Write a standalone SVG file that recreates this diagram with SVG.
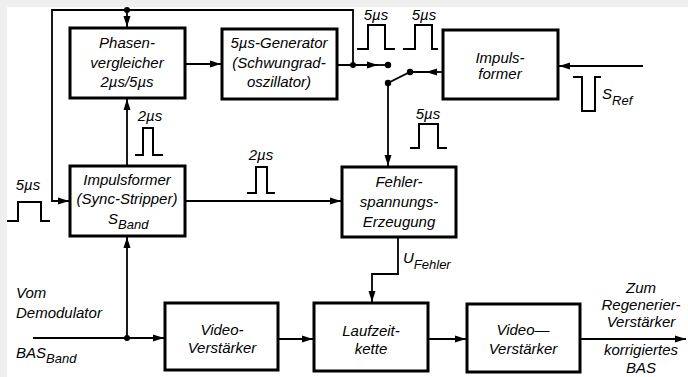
<svg xmlns="http://www.w3.org/2000/svg" width="688" height="377" viewBox="0 0 688 377">
<defs>
<marker id="arr" markerUnits="userSpaceOnUse" markerWidth="12" markerHeight="8" refX="11" refY="4" orient="auto">
<path d="M0,0.5 L11,4 L0,7.5 Z" fill="#000"/>
</marker>
<style>
.box{fill:#fff;stroke:#000;stroke-width:3}
.ln{fill:none;stroke:#000;stroke-width:1.8}
.pl{fill:none;stroke:#000;stroke-width:2}
.dot{fill:#000}
text{font-family:"Liberation Sans","DejaVu Sans",sans-serif;font-style:italic;font-size:15px;fill:#000}
.c{text-anchor:middle}
.sub{font-size:13px}
</style>
</defs>
<rect x="0" y="0" width="688" height="377" fill="#fff"/>
<rect x="0" y="0" width="688" height="7" fill="#efefef"/>
<rect x="0" y="0" width="7" height="377" fill="#efefef"/>

<g id="connectors">
<path class="ln" d="M353,65 V10 H52 V201 H69" marker-end="url(#arr)"/>
<path class="ln" d="M127,10 V27" marker-end="url(#arr)"/>
<path class="ln" d="M185,64 H221" marker-end="url(#arr)"/>
<path class="ln" d="M337,65 H378" marker-end="url(#arr)"/>
<path class="ln" d="M376,65 H388"/>
<path class="ln" d="M643,66 H559" marker-end="url(#arr)"/>
<path class="ln" d="M443,72 H426" marker-end="url(#arr)"/>
<path class="ln" d="M428,72 H410 L388,83"/>
<path class="ln" d="M388,83 V166" marker-end="url(#arr)"/>
<path class="ln" d="M127,166 V99" marker-end="url(#arr)"/>
<path class="ln" d="M185,201 H341" marker-end="url(#arr)"/>
<path class="ln" d="M33,338 H164" marker-end="url(#arr)"/>
<path class="ln" d="M127,338 V237" marker-end="url(#arr)"/>
<path class="ln" d="M278,339 H313" marker-end="url(#arr)"/>
<path class="ln" d="M428,339 H466" marker-end="url(#arr)"/>
<path class="ln" d="M580,339 H686" marker-end="url(#arr)"/>
<path class="ln" d="M398,237 V274 H372 V302" marker-end="url(#arr)"/>
<circle class="dot" cx="127" cy="10" r="3"/>
<circle class="dot" cx="353" cy="65" r="3"/>
<circle class="dot" cx="388" cy="65" r="3.2"/>
<circle class="dot" cx="410" cy="72" r="3.2"/>
<circle class="dot" cx="388" cy="83" r="3.2"/>
<circle class="dot" cx="127" cy="338" r="3"/>
</g>

<g id="pulses">
<polyline class="pl" points="357,49 368,49 368,25 385,25 385,49 395,49"/>
<text x="376" y="20" class="c">5µs</text>
<polyline class="pl" points="403,49 415,49 415,25 432,25 432,49 438,49"/>
<text x="424" y="20" class="c">5µs</text>
<polyline class="pl" points="410,148 419,148 419,124 438,124 438,148 447,148"/>
<text x="428" y="119" class="c">5µs</text>
<polyline class="pl" points="135,155 143,155 143,128 153,128 153,155 163,155"/>
<text x="150" y="121" class="c">2µs</text>
<polyline class="pl" points="247,193 256,193 256,167 267,167 267,193 275,193"/>
<text x="261" y="160" class="c">2µs</text>
<polyline class="pl" points="7,221 18,221 18,202 41,202 41,221 50,221"/>
<text x="28" y="190" class="c">5µs</text>
<polyline class="pl" points="573,77 582,77 582,111 595,111 595,77 601,77"/>
<text x="602" y="99">S<tspan class="sub" dy="6">Ref</tspan></text>
</g>

<g id="phasenvergleicher">
<rect class="box" x="70" y="28" width="115" height="70"/>
<text x="127" y="48" class="c">Phasen-</text>
<text x="127" y="68" class="c">vergleicher</text>
<text x="127" y="87" class="c">2µs/5µs</text>
</g>

<g id="generator">
<rect class="box" x="222" y="29" width="115" height="70"/>
<text x="279" y="48" class="c">5µs-Generator</text>
<text x="279" y="68" class="c">(Schwungrad-</text>
<text x="279" y="87" class="c">oszillator)</text>
</g>

<g id="impulsformer-ref">
<rect class="box" x="443" y="30" width="115" height="69"/>
<text x="500" y="63" class="c">Impuls-</text>
<text x="500" y="79" class="c">former</text>
</g>

<g id="sync-stripper">
<rect class="box" x="70" y="166" width="115" height="70"/>
<text x="127" y="185" class="c">Impulsformer</text>
<text x="127" y="204" class="c">(Sync-Stripper)</text>
<text x="108" y="224">S<tspan class="sub" dy="5">Band</tspan></text>
</g>

<g id="fehlerspannung">
<rect class="box" x="342" y="167" width="114" height="70"/>
<text x="399" y="187" class="c">Fehler-</text>
<text x="399" y="207" class="c">spannungs-</text>
<text x="399" y="227" class="c">Erzeugung</text>
</g>
<text x="403" y="263">U<tspan class="sub" dy="6">Fehler</tspan></text>

<g id="video1">
<rect class="box" x="165" y="303" width="113" height="67"/>
<text x="222" y="335" class="c">Video-</text>
<text x="222" y="353" class="c">Verstärker</text>
</g>

<g id="laufzeitkette">
<rect class="box" x="314" y="303" width="114" height="68"/>
<text x="371" y="336" class="c">Laufzeit-</text>
<text x="371" y="354" class="c">kette</text>
</g>

<g id="video2">
<rect class="box" x="467" y="304" width="113" height="68"/>
<text x="523" y="335" class="c">Video—</text>
<text x="523" y="354" class="c">Verstärker</text>
</g>

<g id="labels">
<text x="16" y="298">Vom</text>
<text x="16" y="318">Demodulator</text>
<text x="16" y="358">BAS<tspan class="sub" dy="5">Band</tspan></text>
<text x="641" y="293" class="c">Zum</text>
<text x="641" y="310" class="c">Regenerier-</text>
<text x="641" y="327" class="c">Verstärker</text>
<text x="641" y="355" class="c">korrigiertes</text>
<text x="641" y="373" class="c">BAS</text>
</g>
</svg>
